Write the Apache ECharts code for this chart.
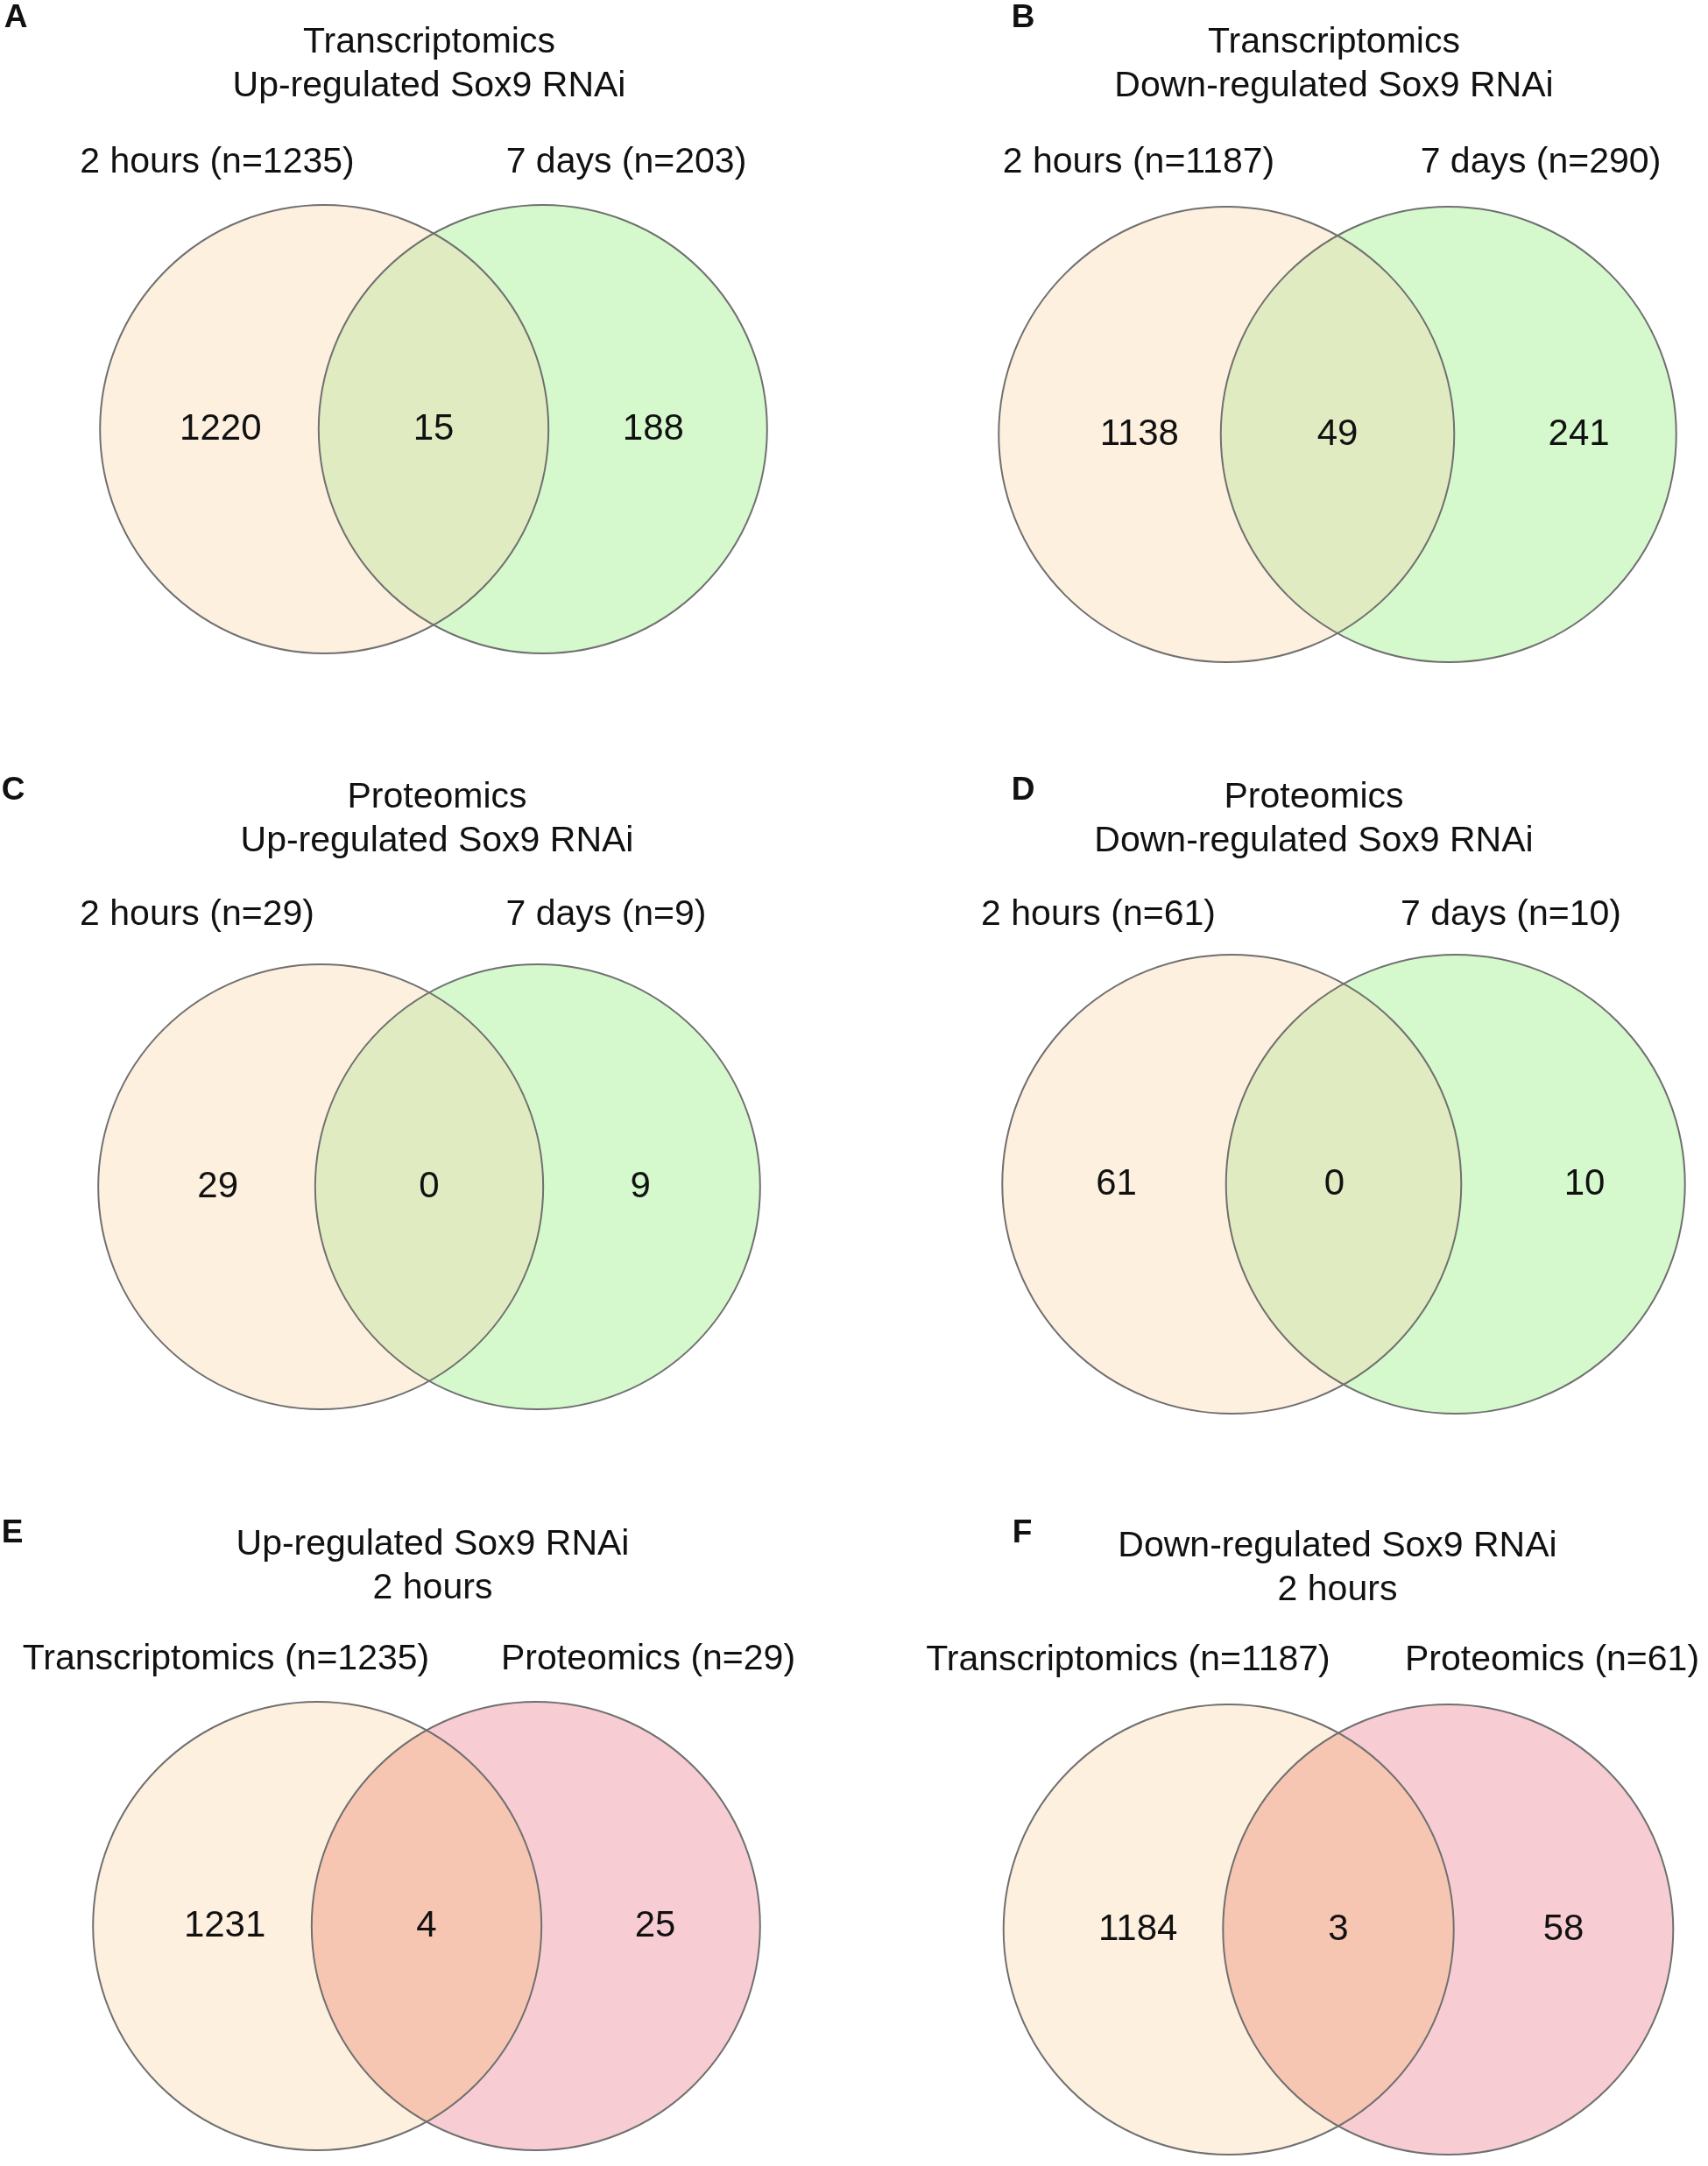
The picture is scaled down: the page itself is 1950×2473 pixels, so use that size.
<!DOCTYPE html>
<html>
<head>
<meta charset="utf-8">
<title>Sox9 RNAi Venn diagrams</title>
<script src="https://cdn.jsdelivr.net/npm/echarts@6/dist/echarts.min.js"></script>
<style>
  html, body { margin: 0; padding: 0; background: #fff; }
  #venn { width: 1950px; height: 2473px; }
</style>
</head>
<body>
<div id="venn"></div>
<script>
// 每个面板的数据
var panelLetters = ['A', 'B', 'C', 'D', 'E', 'F'];
var panelTitles = [
  'Transcriptomics\nUp-regulated Sox9 RNAi',
  'Transcriptomics\nDown-regulated Sox9 RNAi',
  'Proteomics\nUp-regulated Sox9 RNAi',
  'Proteomics\nDown-regulated Sox9 RNAi',
  'Up-regulated Sox9 RNAi\n2 hours',
  'Down-regulated Sox9 RNAi\n2 hours'
];
var leftNames = ['2 hours', '2 hours', '2 hours', '2 hours', 'Transcriptomics', 'Transcriptomics'];
var leftTotals = [1235, 1187, 29, 61, 1235, 1187];
var rightNames = ['7 days', '7 days', '7 days', '7 days', 'Proteomics', 'Proteomics'];
var rightTotals = [203, 290, 9, 10, 29, 61];
var onlyLeft = [1220, 1138, 29, 61, 1231, 1184];
var overlap = [15, 49, 0, 0, 4, 3];
var onlyRight = [188, 241, 9, 10, 25, 58];

// 布局 (px)
var D = 0.975; // 圆心距 / 半径
var layout = [
  {mx: 495,  cy: 490,  r: 256, tx: 490,  ty: 74,   lx: 248,  rx: 715,  ly: 186,  letter: [18, 21],    cx: [-0.95, 0, 0.98]},
  {mx: 1527, cy: 496,  r: 260, tx: 1523, ty: 74,   lx: 1300, rx: 1759, ly: 186,  letter: [1168, 21],  cx: [-0.87, 0, 1.06]},
  {mx: 490,  cy: 1355, r: 254, tx: 499,  ty: 936,  lx: 225,  rx: 692,  ly: 1045, letter: [15, 903],   cx: [-0.95, 0, 0.95]},
  {mx: 1534, cy: 1352, r: 262, tx: 1500, ty: 936,  lx: 1254, rx: 1725, ly: 1045, letter: [1168, 903], cx: [-0.99, -0.04, 1.05]},
  {mx: 487,  cy: 2199, r: 256, tx: 494,  ty: 1789, lx: 258,  rx: 740,  ly: 1895, letter: [14, 1751],  cx: [-0.90, 0, 1.02]},
  {mx: 1528, cy: 2203, r: 257, tx: 1527, ty: 1791, lx: 1288, rx: 1772, ly: 1896, letter: [1167, 1751], cx: [-0.89, 0, 1.0]}
];
var leftColor = '#fdf0df';
var rightColors = ['#d5f9cd', '#d5f9cd', '#d5f9cd', '#d5f9cd', '#f7cdd3', '#f7cdd3'];
var lensColors = ['#e1ebc1', '#e1ebc1', '#e1ebc1', '#e1ebc1', '#f6c6b3', '#f6c6b3'];
var font = '"Liberation Sans", Arial, sans-serif';

var myChart = echarts.init(document.getElementById('venn'));

var grids = [], xAxes = [], yAxes = [], titles = [], series = [];

function textTitle(text, x, y, size, weight) {
  return {
    text: text, left: x, top: y, padding: 0,
    textAlign: 'center', textVerticalAlign: 'middle',
    textStyle: {fontSize: size, fontWeight: weight, color: '#111', fontFamily: font, lineHeight: 50}
  };
}

for (var i = 0; i < 6; i++) {
  var L = layout[i];
  grids.push({
    left: L.mx - (1 + D / 2) * L.r, top: L.cy - L.r,
    width: (2 + D) * L.r, height: 2 * L.r
  });
  xAxes.push({type: 'value', gridIndex: i, min: -(1 + D / 2), max: 1 + D / 2, show: false});
  yAxes.push({type: 'value', gridIndex: i, min: -1, max: 1, show: false});

  titles.push(textTitle(panelTitles[i], L.tx, L.ty, 41, 'normal'));
  titles.push(textTitle(leftNames[i] + ' (n=' + leftTotals[i] + ')', L.lx, L.ly, 41, 'normal'));
  titles.push(textTitle(rightNames[i] + ' (n=' + rightTotals[i] + ')', L.rx, L.ly, 41, 'normal'));
  titles.push(textTitle(panelLetters[i], L.letter[0], L.letter[1], 37, 'bold'));

  (function (i) {
    // 填充: 左圆, 右圆 + 交集
    series.push({
      type: 'custom', xAxisIndex: i, yAxisIndex: i, silent: true,
      data: [[-D / 2, 0], [D / 2, 0]],
      renderItem: function (params, api) {
        var c = api.coord([api.value(0), api.value(1)]);
        var R = api.size([1, 1])[0];
        if (params.dataIndex === 0) {
          return {type: 'circle', shape: {cx: c[0], cy: c[1], r: R}, style: {fill: leftColor}};
        }
        var cl = api.coord([-D / 2, 0]);
        var th = Math.acos((c[0] - cl[0]) / 2 / R);
        var pts = [], n = 80, k, t;
        for (k = 0; k <= n; k++) {
          t = -th + 2 * th * k / n;
          pts.push([cl[0] + R * Math.cos(t), cl[1] + R * Math.sin(t)]);
        }
        for (k = 0; k <= n; k++) {
          t = Math.PI - th + 2 * th * k / n;
          pts.push([c[0] + R * Math.cos(t), c[1] + R * Math.sin(t)]);
        }
        return {
          type: 'group',
          children: [
            {type: 'circle', shape: {cx: c[0], cy: c[1], r: R}, style: {fill: rightColors[i]}},
            {type: 'polygon', shape: {points: pts}, style: {fill: lensColors[i]}}
          ]
        };
      }
    });
    // 边框
    series.push({
      type: 'custom', xAxisIndex: i, yAxisIndex: i, silent: true,
      data: [[-D / 2, 0], [D / 2, 0]],
      renderItem: function (params, api) {
        var c = api.coord([api.value(0), api.value(1)]);
        var R = api.size([1, 1])[0];
        return {type: 'circle', shape: {cx: c[0], cy: c[1], r: R},
          style: {fill: 'none', stroke: '#707070', lineWidth: 2}};
      }
    });
  })(i);

  // 数字
  series.push({
    type: 'custom', xAxisIndex: i, yAxisIndex: i, silent: true,
    data: [[L.cx[0], 0, onlyLeft[i]], [L.cx[1], 0, overlap[i]], [L.cx[2], 0, onlyRight[i]]],
    renderItem: function (params, api) {
      var p = api.coord([api.value(0), api.value(1)]);
      return {
        type: 'text',
        style: {
          text: String(api.value(2)), x: p[0], y: p[1],
          align: 'center', verticalAlign: 'middle',
          fill: '#111', fontSize: 42, fontFamily: font
        }
      };
    }
  });
}

option = {
  backgroundColor: '#ffffff',
  animation: false,
  title: titles,
  grid: grids,
  xAxis: xAxes,
  yAxis: yAxes,
  series: series
};
myChart.setOption(option);
window.addEventListener('resize', function () {
  myChart.resize();
});
</script>
</body>
</html>
